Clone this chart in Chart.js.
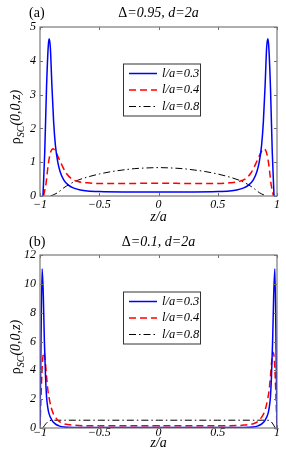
<!DOCTYPE html>
<html>
<head>
<meta charset="utf-8">
<script src="https://cdn.jsdelivr.net/npm/chart.js@4"></script>
<style>
  body { margin: 0; background: #fff; }
  .panel { position: absolute; left: 0; width: 286px; height: 232px; }
</style>
</head>
<body>
<div class="panel" style="top:0"><canvas id="chartA"></canvas></div>
<div class="panel" style="top:232px"><canvas id="chartB"></canvas></div>
<script>
// ---- data ----
const legendLabels = ['l/a=0.3', 'l/a=0.4', 'l/a=0.8'];
const xTicks = [-1, -0.5, 0, 0.5, 1];

// panel (a): Delta = 0.95
const zA1 = [-0.975,-0.96,-0.945,-0.93,-0.922,-0.912,-0.9,-0.885,-0.87,-0.85,-0.83,-0.8,-0.76,-0.72,-0.66,-0.6,-0.5,-0.3,0,0.3,0.5,0.6,0.66,0.72,0.76,0.8,0.83,0.85,0.87,0.885,0.9,0.912,0.922,0.93,0.945,0.96,0.975];
const rhoA1 = [0,1.3,3.2,4.45,4.65,4.35,3.3,2.2,1.5,1.0,0.72,0.48,0.32,0.24,0.18,0.15,0.13,0.12,0.12,0.12,0.13,0.15,0.18,0.24,0.32,0.48,0.72,1.0,1.5,2.2,3.3,4.35,4.65,4.45,3.2,1.3,0];
const zA2 = [-0.97,-0.95,-0.93,-0.91,-0.89,-0.87,-0.85,-0.82,-0.78,-0.73,-0.68,-0.6,-0.5,-0.3,0,0.3,0.5,0.6,0.68,0.73,0.78,0.82,0.85,0.87,0.89,0.91,0.93,0.95,0.97];
const rhoA2 = [0,0.35,0.95,1.3,1.4,1.33,1.18,0.95,0.68,0.5,0.43,0.39,0.37,0.37,0.38,0.37,0.37,0.39,0.43,0.5,0.68,0.95,1.18,1.33,1.4,1.3,0.95,0.35,0];
const zA3 = [-0.91,-0.85,-0.8,-0.75,-0.7,-0.6,-0.5,-0.4,-0.3,-0.2,-0.1,0,0.1,0.2,0.3,0.4,0.5,0.6,0.7,0.75,0.8,0.85,0.91];
const rhoA3 = [0,0.1,0.24,0.35,0.44,0.56,0.65,0.72,0.77,0.81,0.83,0.84,0.83,0.81,0.77,0.72,0.65,0.56,0.44,0.35,0.24,0.1,0];

// panel (b): Delta = 0.1
const zB1 = [-1,-0.993,-0.982,-0.972,-0.963,-0.953,-0.944,-0.934,-0.924,-0.9,-0.874,-0.84,-0.8,-0.7,-0.5,0,0.5,0.7,0.8,0.84,0.874,0.9,0.924,0.934,0.944,0.953,0.963,0.972,0.982,0.993,1];
const rhoB1 = [0,5,11.05,9.2,6,3.5,2.1,1.4,1.0,0.55,0.3,0.15,0.07,0.04,0.03,0.03,0.03,0.04,0.07,0.15,0.3,0.55,1.0,1.4,2.1,3.5,6,9.2,11.05,5,0];
const zB2 = [-1,-0.99,-0.978,-0.966,-0.955,-0.945,-0.933,-0.92,-0.905,-0.888,-0.866,-0.846,-0.8,-0.72,-0.6,0,0.6,0.72,0.8,0.846,0.866,0.888,0.905,0.92,0.933,0.945,0.955,0.966,0.978,0.99,1];
const rhoB2 = [0,2.5,4.7,5.25,4.6,3.6,2.6,1.95,1.4,1.0,0.7,0.5,0.3,0.2,0.16,0.15,0.16,0.2,0.3,0.5,0.7,1.0,1.4,1.95,2.6,3.6,4.6,5.25,4.7,2.5,0];
const zB3 = [-0.975,-0.95,-0.92,-0.88,-0.5,0,0.5,0.88,0.93,0.96,0.985];
const rhoB3 = [0.02,0.3,0.5,0.54,0.54,0.54,0.54,0.54,0.53,0.35,0];

const SERIF = '"Liberation Serif", "DejaVu Serif", serif';

function pts(z, r) {
    return z.map((v, i) => ({ x: v, y: r[i] }));
}

function makeDatasets(series) {
    const styles = [
        { borderColor: '#0000ff', borderWidth: 1.5, borderDash: [] },
        { borderColor: '#ff0000', borderWidth: 1.5, borderDash: [7, 4] },
        { borderColor: '#000000', borderWidth: 1, borderDash: [7, 3, 1.5, 3] }
    ];
    return series.map((s, i) => Object.assign({
        label: legendLabels[i],
        data: pts(s[0], s[1]),
        pointRadius: 0,
        fill: false,
        cubicInterpolationMode: 'monotone'
    }, styles[i]));
}

// draws matlab-like box, inner ticks, title, axis labels and the legend
const panelDecor = {
    id: 'panelDecor',
    afterDraw(chart, args, opts) {
        const ctx = chart.ctx;
        const a = chart.chartArea;
        const sx = chart.scales.x, sy = chart.scales.y;
        ctx.save();

        // inner ticks
        ctx.strokeStyle = '#6e6e6e';
        ctx.lineWidth = 1;
        ctx.beginPath();
        sx.ticks.forEach(t => {
            const px = Math.round(sx.getPixelForValue(t.value)) + 0.5;
            ctx.moveTo(px, a.bottom); ctx.lineTo(px, a.bottom - 3);
            ctx.moveTo(px, a.top); ctx.lineTo(px, a.top + 3);
        });
        sy.ticks.forEach(t => {
            const py = Math.round(sy.getPixelForValue(t.value)) + 0.5;
            ctx.moveTo(a.left, py); ctx.lineTo(a.left + 3, py);
            ctx.moveTo(a.right, py); ctx.lineTo(a.right - 3, py);
        });
        ctx.stroke();

        // box
        ctx.strokeStyle = '#7a7a7a';
        ctx.lineWidth = 1.2;
        ctx.strokeRect(a.left, a.top, a.right - a.left, a.bottom - a.top);

        // panel tag and title
        ctx.fillStyle = '#000';
        ctx.textBaseline = 'middle';
        ctx.textAlign = 'left';
        ctx.font = '14px ' + SERIF;
        ctx.fillText(opts.tag, 29, opts.titleY);

        const parts = [
            { t: '\u0394', f: '14px ' + SERIF },
            { t: opts.title, f: 'italic 14px ' + SERIF }
        ];
        let w = 0;
        parts.forEach(p => { ctx.font = p.f; w += ctx.measureText(p.t).width; });
        let x = (a.left + a.right) / 2 - w / 2;
        parts.forEach(p => { ctx.font = p.f; ctx.fillText(p.t, x, opts.titleY); x += ctx.measureText(p.t).width; });

        // x label
        ctx.textAlign = 'center';
        ctx.font = 'italic 14px ' + SERIF;
        ctx.fillText('z/a', (a.left + a.right) / 2, opts.xLabelY);

        // y label (rotated, with subscript)
        ctx.save();
        ctx.translate(15, opts.yLabelY);
        ctx.rotate(-Math.PI / 2);
        ctx.textAlign = 'left';
        ctx.textBaseline = 'alphabetic';
        const yl = [
            { t: '\u03c1', f: '14px ' + SERIF, dy: 0 },
            { t: 'SC', f: 'italic 10px ' + SERIF, dy: 4 },
            { t: '(0,0,z)', f: 'italic 14px ' + SERIF, dy: 0 }
        ];
        let yw = 0;
        yl.forEach(p => { ctx.font = p.f; yw += ctx.measureText(p.t).width; });
        let yx = -yw / 2;
        yl.forEach(p => { ctx.font = p.f; ctx.fillText(p.t, yx, 5 + p.dy); yx += ctx.measureText(p.t).width; });
        ctx.restore();

        // legend
        const lx = a.left + 83, ly = a.top + 36.5, lw = 77, lh = 52;
        ctx.fillStyle = '#fff';
        ctx.fillRect(lx, ly, lw, lh);
        ctx.strokeStyle = '#333';
        ctx.lineWidth = 1;
        ctx.strokeRect(lx + 0.5, ly + 0.5, lw, lh);
        chart.data.datasets.forEach((ds, i) => {
            const ry = ly + 10 + i * 16.5;
            ctx.strokeStyle = ds.borderColor;
            ctx.lineWidth = ds.borderWidth;
            ctx.setLineDash(ds.borderDash);
            ctx.beginPath();
            ctx.moveTo(lx + 6, ry); ctx.lineTo(lx + 34, ry);
            ctx.stroke();
            ctx.setLineDash([]);
            ctx.fillStyle = '#000';
            ctx.textAlign = 'left';
            ctx.textBaseline = 'middle';
            ctx.font = 'italic 12.5px ' + SERIF;
            ctx.fillText(ds.label, lx + 39, ry);
        });

        ctx.restore();
    }
};

function makeChart(id, series, yMax, yStep, topPad, decor) {
    return new Chart(document.getElementById(id), {
        type: 'line',
        data: { datasets: makeDatasets(series) },
        options: {
            responsive: true,
            maintainAspectRatio: false,
            animation: false,
            layout: { padding: { top: topPad, right: 9, left: 0, bottom: 0 } },
            plugins: {
                legend: { display: false },
                tooltip: { enabled: false },
                panelDecor: decor
            },
            scales: {
                x: {
                    type: 'linear',
                    min: -1,
                    max: 1,
                    afterBuildTicks: s => { s.ticks = xTicks.map(v => ({ value: v })); },
                    grid: { display: false, drawTicks: false },
                    border: { display: false },
                    ticks: {
                        padding: decor.xTickPad,
                        color: '#000',
                        maxRotation: 0,
                        font: { family: SERIF, style: 'italic', size: 12 },
                        callback: v => String(v).replace('-', '\u2212')
                    },
                    afterFit: s => { s.height = 36; }
                },
                y: {
                    min: 0,
                    max: yMax,
                    grid: { display: false, drawTicks: false },
                    border: { display: false },
                    ticks: {
                        stepSize: yStep,
                        padding: 4,
                        color: '#000',
                        font: { family: SERIF, style: 'italic', size: 12 }
                    },
                    afterFit: s => { s.width = 40; }
                }
            }
        },
        plugins: [panelDecor]
    });
}

makeChart('chartA', [[zA1, rhoA1], [zA2, rhoA2], [zA3, rhoA3]], 5, 1, 27,
    { tag: '(a)', title: '=0.95, d=2a', titleY: 13, xLabelY: 217, yLabelY: 117, xTickPad: 2 });
makeChart('chartB', [[zB1, rhoB1], [zB2, rhoB2], [zB3, rhoB3]], 12, 2, 23,
    { tag: '(b)', title: '=0.1, d=2a', titleY: 10, xLabelY: 211, yLabelY: 115, xTickPad: -2 });
</script>
</body>
</html>
